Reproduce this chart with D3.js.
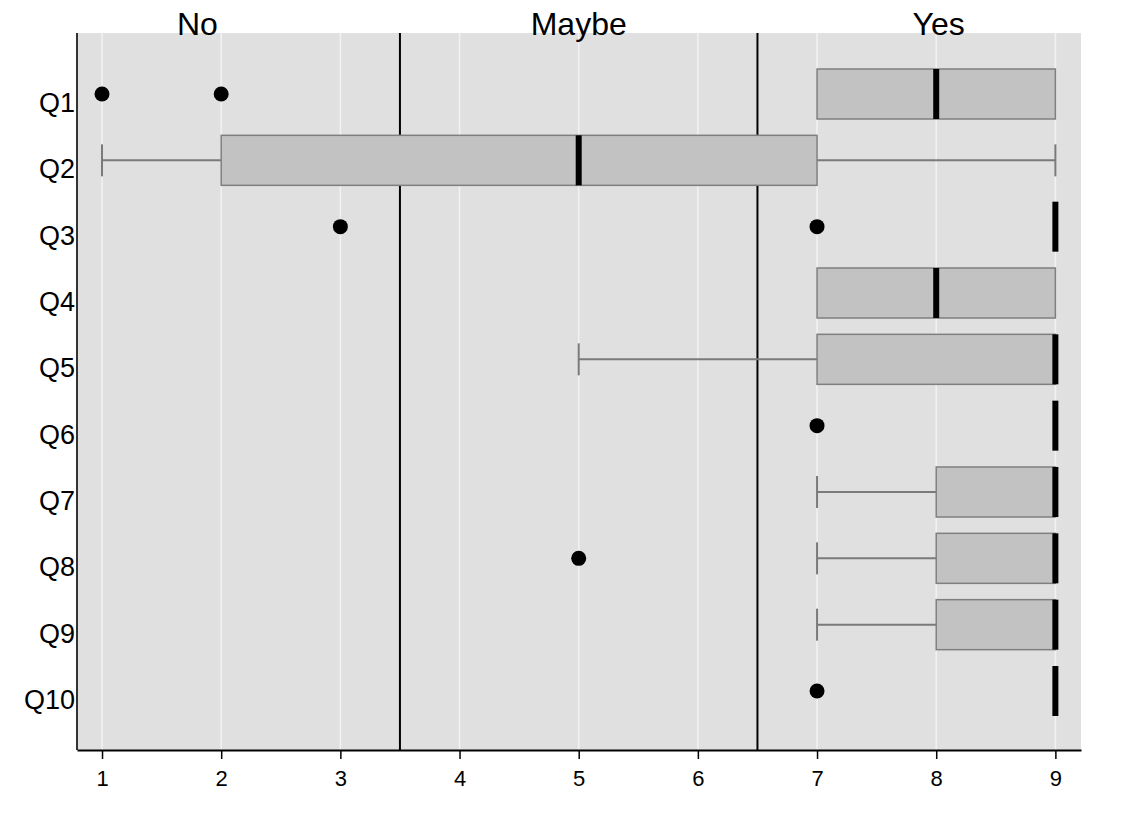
<!DOCTYPE html>
<html><head><meta charset="utf-8">
<script src="https://cdn.jsdelivr.net/npm/d3@7"></script>
<style>body{margin:0;background:#fff;}svg{display:block;font-family:"Liberation Sans",Arial,Helvetica,sans-serif;}</style>
</head><body>
<script>
const questions = ["Q1","Q2","Q3","Q4","Q5","Q6","Q7","Q8","Q9","Q10"];
const whiskerLow  = [7,1,9,7,5,9,7,7,7,9];
const boxLow      = [7,2,9,7,7,9,8,8,8,9];
const medians     = [8,5,9,8,9,9,9,9,9,9];
const boxHigh     = [9,7,9,9,9,9,9,9,9,9];
const whiskerHigh = [9,9,9,9,9,9,9,9,9,9];
const outliers    = [[1,2],[],[3,7],[],[],[7],[],[5],[],[7]];
const xTicks = [1,2,3,4,5,6,7,8,9];
const dividers = [3.5, 6.5];
const groupLabels = ["No","Maybe","Yes"];
const groupLabelPos = [1.8, 5.0, 8.02];

(function(){
const W = 1132, H = 823;
const pL = 77, pR = 1081, pT = 33, pB = 750;
const svg = d3.select("body").append("svg").attr("width", W).attr("height", H);

const x = d3.scaleLinear().domain([0.79, 9.215]).range([pL, pR]);
const y = d3.scalePoint().domain(questions).range([94, 691]);

svg.append("rect").attr("x", pL).attr("y", pT).attr("width", pR-pL).attr("height", pB-pT).attr("fill", "#e0e0e0");

// grid
svg.append("g").selectAll("line").data(xTicks).join("line")
  .attr("x1", d=>x(d)).attr("x2", d=>x(d)).attr("y1", pT).attr("y2", pB)
  .attr("stroke", "#f2f2f6").attr("stroke-width", 1.5);

// dividers
svg.append("g").selectAll("line").data(dividers).join("line")
  .attr("x1", d=>x(d)).attr("x2", d=>x(d)).attr("y1", pT).attr("y2", pB)
  .attr("stroke", "#000").attr("stroke-width", 2);

const rows = questions.map((q,i)=>({q, wl:whiskerLow[i], bl:boxLow[i], med:medians[i], bh:boxHigh[i], wh:whiskerHigh[i], out:outliers[i]}));
const boxH = 50, capH = 32;
const g = svg.append("g");
rows.forEach(r=>{
  const cy = y(r.q);
  const gr = g.append("g");
  if (r.wl < r.bl) {
    gr.append("line").attr("x1", x(r.wl)).attr("x2", x(r.bl)).attr("y1", cy).attr("y2", cy).attr("stroke","#7a7a7a").attr("stroke-width",2);
    gr.append("line").attr("x1", x(r.wl)).attr("x2", x(r.wl)).attr("y1", cy-capH/2).attr("y2", cy+capH/2).attr("stroke","#7a7a7a").attr("stroke-width",2);
  }
  if (r.wh > r.bh) {
    gr.append("line").attr("x1", x(r.bh)).attr("x2", x(r.wh)).attr("y1", cy).attr("y2", cy).attr("stroke","#7a7a7a").attr("stroke-width",2);
    gr.append("line").attr("x1", x(r.wh)).attr("x2", x(r.wh)).attr("y1", cy-capH/2).attr("y2", cy+capH/2).attr("stroke","#7a7a7a").attr("stroke-width",2);
  }
  if (r.bh > r.bl) {
    gr.append("rect").attr("x", x(r.bl)).attr("y", cy-boxH/2).attr("width", x(r.bh)-x(r.bl)).attr("height", boxH)
      .attr("fill","#c2c2c2").attr("stroke","#7f7f7f").attr("stroke-width",1.5);
  }
  gr.append("line").attr("x1", x(r.med)).attr("x2", x(r.med)).attr("y1", cy-boxH/2).attr("y2", cy+boxH/2)
    .attr("stroke","#000").attr("stroke-width",6);
  gr.selectAll("circle").data(r.out).join("circle")
    .attr("cx", d=>x(d)).attr("cy", cy).attr("r", 7.5).attr("fill","#000");
});

// axes
svg.append("line").attr("x1", pL).attr("x2", pL).attr("y1", pT).attr("y2", pB).attr("stroke","#333").attr("stroke-width",2);
const xAxis = svg.append("g").attr("transform", `translate(0,${pB})`)
  .call(d3.axisBottom(x).tickValues(xTicks).tickFormat(d3.format("d")).tickSize(9).tickSizeOuter(0));
xAxis.attr("font-size", null).attr("font-family", null);
xAxis.select(".domain").attr("stroke","#000").attr("stroke-width",2);
xAxis.selectAll(".tick line").attr("stroke","#000").attr("stroke-width",1.5);
xAxis.selectAll(".tick text").style("font-size","22px").attr("fill","#000").attr("y",36).attr("dy",null);

svg.append("g").selectAll("text").data(questions).join("text")
  .attr("x", pL-2).attr("y", d=>y(d)+18).attr("text-anchor","end")
  .style("font-size","27px").attr("fill","#000").text(d=>d);

svg.append("g").selectAll("text").data(groupLabels).join("text")
  .attr("x", (d,i)=>x(groupLabelPos[i])).attr("y", 35).attr("text-anchor","middle")
  .style("font-size","32px").attr("fill","#000").text(d=>d);
})();
</script>
</body></html>
